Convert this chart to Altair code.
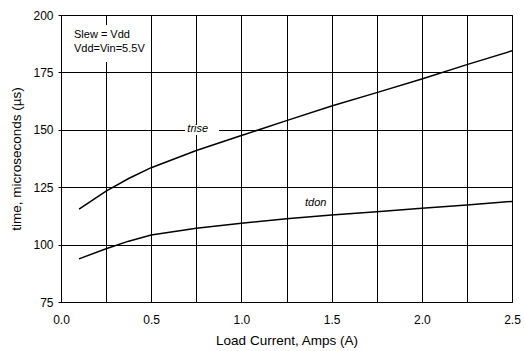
import altair as alt
import pandas as pd

# Data
load_current = [0.1, 0.25, 0.375, 0.5, 0.75, 1.0, 1.25, 1.5, 1.75, 2.0, 2.25, 2.5]
trise = [115.5, 123.3, 128.8, 133.5, 141.0, 147.5, 154.0, 160.4, 166.2, 172.1, 178.4, 184.4]
tdon = [93.8, 98.2, 101.5, 104.2, 107.1, 109.3, 111.3, 112.9, 114.3, 115.8, 117.2, 118.8]

x_ticks = [0.0, 0.25, 0.5, 0.75, 1.0, 1.25, 1.5, 1.75, 2.0, 2.25, 2.5]
y_ticks = [75, 100, 125, 150, 175, 200]

# annotation texts and their white backgrounds (data coordinates)
series_labels = ["trise", "tdon"]
series_label_x = [0.758, 1.412]
series_label_y = [150.2, 118.0]

note_lines = ["Slew = Vdd", "Vdd=Vin=5.5V"]
note_x = [0.072, 0.072]
note_y = [189.9, 184.0]

bg_x = [0.03, 0.687]
bg_x2 = [0.47, 0.876]
bg_y = [179.5, 147.7]
bg_y2 = [195.6, 152.1]

rows = []
for xv, a, b in zip(load_current, trise, tdon):
    rows.append({"x": xv, "y": a, "series": "trise"})
    rows.append({"x": xv, "y": b, "series": "tdon"})
df = pd.DataFrame(rows)

xscale = alt.Scale(domain=[0, 2.5], nice=False, zero=False)
yscale = alt.Scale(domain=[75, 200], nice=False, zero=False)

font = "Liberation Sans"

xaxis = alt.Axis(
    values=x_ticks,
    labelExpr="datum.value % 0.5 == 0 ? format(datum.value, '.1f') : ''",
    title="Load Current, Amps (A)",
    grid=True, ticks=False, labelPadding=12, titlePadding=8, labelFlush=False,
    labelFontSize=12, titleFontSize=13.5, labelFont=font, titleFont=font,
    labelColor="#000", titleColor="#000", titleFontWeight="normal",
    domainColor="#000", gridColor="#000", gridWidth=1,
)
yaxis = alt.Axis(
    values=y_ticks, format="d",
    title="time, microseconds (µs)",
    grid=True, ticks=True, tickSize=3, tickColor="#000", labelPadding=5, titlePadding=9,
    labelFlush=False,
    labelFontSize=12, titleFontSize=13.5, labelFont=font, titleFont=font,
    labelColor="#000", titleColor="#000", titleFontWeight="normal",
    domainColor="#000", gridColor="#000", gridWidth=1,
)

base = alt.Chart(df)

lines = base.mark_line(color="#000", strokeWidth=1.5).encode(
    x=alt.X("x:Q", scale=xscale, axis=xaxis),
    y=alt.Y("y:Q", scale=yscale, axis=yaxis),
    detail="series:N",
)

bg_df = pd.DataFrame({"x": bg_x, "x2": bg_x2, "y": bg_y, "y2": bg_y2})
bg = alt.Chart(bg_df).mark_rect(color="white").encode(
    x=alt.X("x:Q", scale=xscale), x2="x2:Q",
    y=alt.Y("y:Q", scale=yscale), y2="y2:Q",
)

lab_df = pd.DataFrame({"t": series_labels, "x": series_label_x, "y": series_label_y})
labs = alt.Chart(lab_df).mark_text(
    font=font, fontSize=11, fontStyle="italic", color="#000", align="center", baseline="middle"
).encode(
    x=alt.X("x:Q", scale=xscale), y=alt.Y("y:Q", scale=yscale), text="t:N"
)

note_df = pd.DataFrame({"t": note_lines, "x": note_x, "y": note_y})
notes = alt.Chart(note_df).mark_text(
    font=font, fontSize=11, color="#000", align="left", baseline="alphabetic"
).encode(
    x=alt.X("x:Q", scale=xscale), y=alt.Y("y:Q", scale=yscale), text="t:N"
)

chart = alt.layer(lines, bg, labs, notes).properties(
    width=451, height=287,
    autosize=alt.AutoSizeParams(type="none"),
    padding={"left": 61, "top": 15, "right": 13, "bottom": 49},
    background="white",
).configure_view(stroke="#000", strokeWidth=1)

chart.save("out.html", embed_options={"renderer": "svg", "actions": False})
